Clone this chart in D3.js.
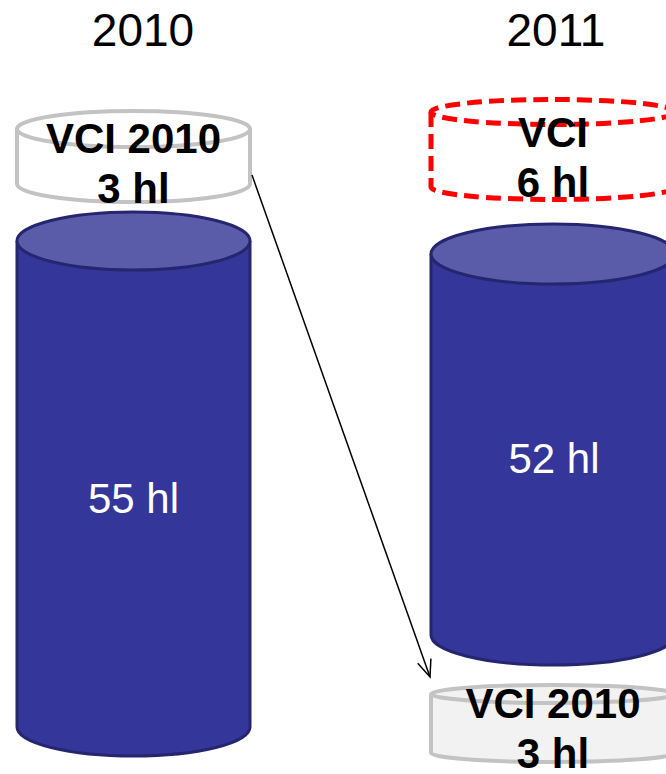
<!DOCTYPE html>
<html>
<head>
<meta charset="utf-8">
<script src="https://cdn.jsdelivr.net/npm/d3@7"></script>
<style>
  html, body { margin: 0; padding: 0; background: #fff; overflow: hidden; }
  svg { display: block; font-family: "Liberation Sans", Arial, sans-serif; }
</style>
</head>
<body>
<svg id="svg" width="666" height="774"></svg>
<script>
    // data
    var years = ['2010', '2011'];
    var volumes = [55, 52];              // hl
    var vciNames = ['VCI 2010', 'VCI'];
    var vciVolumes = [3, 6];             // hl
    var carriedName = 'VCI 2010';        // 2010 VCI carried into 2011
    var carriedVolume = 3;

    var svg = d3.select("#svg");
    var x = d3.scalePoint().domain(years).range([133.5, 553]);
    var rx = [116.5, 122];

    // layout of each cylinder (pixels)
    var baseBox = [{top: 241, bottom: 727, ry: 29}, {top: 254, bottom: 635, ry: 30}];
    var vciBox = [{top: 129, bottom: 184, ry: 18}, {top: 112, bottom: 187, ry: 12.5}];
    var carriedBox = {top: 694, bottom: 753, ry: 9};

    function bodyPath(cx, r, b) {
        return "M" + (cx - r) + "," + b.top
            + "L" + (cx - r) + "," + b.bottom
            + "A" + r + "," + b.ry + " 0 0 0 " + (cx + r) + "," + b.bottom
            + "L" + (cx + r) + "," + b.top + "Z";
    }
    function outlinePath(cx, r, b) {
        return "M" + (cx - r) + "," + b.top
            + "L" + (cx - r) + "," + b.bottom
            + "A" + r + "," + b.ry + " 0 0 0 " + (cx + r) + "," + b.bottom
            + "L" + (cx + r) + "," + b.top;
    }
    function cylinder(cx, r, b, st) {
        var g = svg.append("g");
        g.append("path").attr("d", bodyPath(cx, r, b)).attr("fill", st.fill).attr("stroke", "none");
        g.append("path").attr("d", outlinePath(cx, r, b))
            .attr("fill", "none").attr("stroke", st.stroke).attr("stroke-width", st.width)
            .attr("stroke-dasharray", st.dash || null).attr("stroke-linejoin", "round");
        g.append("ellipse").attr("cx", cx).attr("cy", b.top).attr("rx", r).attr("ry", b.ry)
            .attr("fill", st.topFill).attr("stroke", st.stroke).attr("stroke-width", st.width)
            .attr("stroke-dasharray", st.dash || null);
        return g;
    }

    var blue = {fill: "#35369a", topFill: "#5b5ca9", stroke: "#25266f", width: 3};
    var grey = {fill: "#ffffff", topFill: "#ffffff", stroke: "#c3c3c3", width: 4};
    var greyFilled = {fill: "#f2f2f2", topFill: "#f2f2f2", stroke: "#c3c3c3", width: 4};
    var redDash = {fill: "#ffffff", topFill: "#ffffff", stroke: "#ff0000", width: 5, dash: "15,7"};

    // base volume cylinders
    years.forEach(function (y, i) {
        cylinder(x(y), rx[i], baseBox[i], blue);
    });
    // VCI cylinders on top
    cylinder(x(years[0]), rx[0], vciBox[0], grey);
    cylinder(x(years[1]), rx[1], vciBox[1], redDash);
    // carried VCI 2010 below 2011
    cylinder(x(years[1]), rx[1], carriedBox, greyFilled);

    // arrow from VCI 2010 to carried stock
    svg.append("defs").append("marker")
        .attr("id", "arrow").attr("markerUnits", "userSpaceOnUse")
        .attr("viewBox", "-20 -10 22 20").attr("refX", 0).attr("refY", 0)
        .attr("markerWidth", 22).attr("markerHeight", 20).attr("orient", "auto")
        .append("path").attr("d", "M-17,-7L0,0L-17,7")
        .attr("fill", "none").attr("stroke", "#000").attr("stroke-width", 1.5);
    svg.append("line")
        .attr("x1", 252).attr("y1", 175)
        .attr("x2", x(years[1]) - rx[1] - 1).attr("y2", 677)
        .attr("stroke", "#000").attr("stroke-width", 1.5)
        .attr("marker-end", "url(#arrow)");

    // year titles
    var yearOffset = [9.5, 3];
    svg.selectAll(".year").data(years).enter().append("text")
        .attr("class", "year")
        .attr("x", function (d, i) { return x(d) + yearOffset[i]; })
        .attr("y", 46)
        .attr("text-anchor", "middle").attr("font-size", 46).attr("fill", "#000")
        .text(function (d) { return d; });

    // volume labels
    var volY = [513, 473];
    svg.selectAll(".vol").data(volumes).enter().append("text")
        .attr("class", "vol")
        .attr("x", function (d, i) { return x(years[i]) + (i ? 1 : 0); })
        .attr("y", function (d, i) { return volY[i]; })
        .attr("text-anchor", "middle").attr("font-size", 42).attr("fill", "#fff")
        .text(function (d) { return d + " hl"; });

    // VCI labels
    function vciLabel(cx, y1, name, v) {
        var t = svg.append("text").attr("text-anchor", "middle")
            .attr("font-size", 42).attr("font-weight", "bold").attr("fill", "#000");
        t.append("tspan").attr("x", cx).attr("y", y1).text(name);
        t.append("tspan").attr("x", cx).attr("y", y1 + 50).text(v + " hl");
    }
    vciLabel(x(years[0]), 153, vciNames[0], vciVolumes[0]);
    vciLabel(x(years[1]), 147, vciNames[1], vciVolumes[1]);
    vciLabel(x(years[1]), 718, carriedName, carriedVolume);
</script>
</body>
</html>
